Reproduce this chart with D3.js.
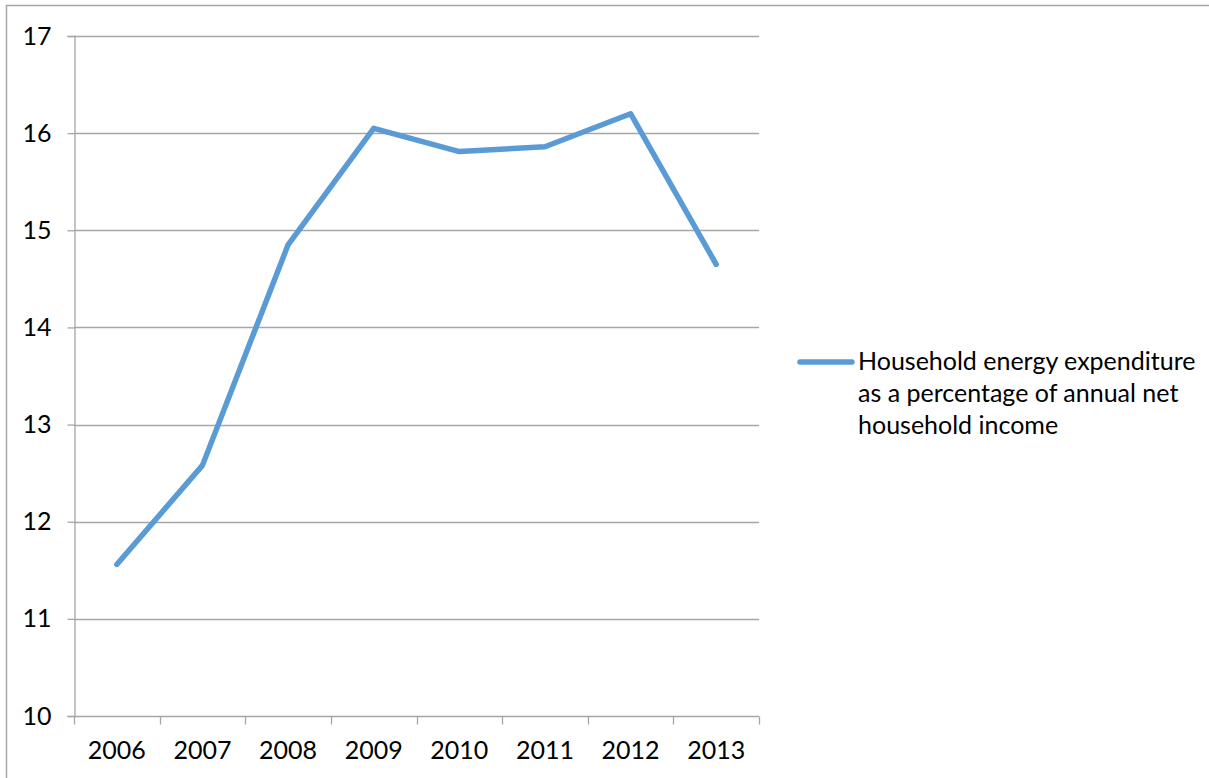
<!DOCTYPE html>
<html>
<head>
<meta charset="utf-8">
<script src="https://cdn.jsdelivr.net/npm/d3@7"></script>
<style>
  body { margin: 0; background: #fff; overflow: hidden; }
  text { font-family: Lato, "Open Sans", sans-serif; fill: #000; }
</style>
</head>
<body>
<script>
var width = 1209;
var height = 778;

var years = ["2006", "2007", "2008", "2009", "2010", "2011", "2012", "2013"];
var shares = [11.56, 12.58, 14.85, 16.05, 15.81, 15.86, 16.2, 14.65];
var yTicks = [10, 11, 12, 13, 14, 15, 16, 17];
var legendLines = ["Household energy expenditure", "as a percentage of annual net", "household income"];

var svg = d3.select("body")
    .append("svg")
    .attr("width", width)
    .attr("height", height);

// chart frame (runs past the right and bottom edges of the picture)
svg.append("rect")
    .attr("x", 6.5)
    .attr("y", 5.5)
    .attr("width", width + 20)
    .attr("height", height + 20)
    .attr("fill", "none")
    .attr("stroke", "#a6a6a6")
    .attr("stroke-width", 1.5);

var x = d3.scaleBand()
    .domain(years)
    .range([74, 759]);

var y = d3.scaleLinear()
    .domain([10, 17])
    .range([716, 36]);

// horizontal gridlines
svg.append("g")
    .selectAll("line")
    .data(yTicks.slice(1))
    .enter()
    .append("line")
    .attr("x1", 74)
    .attr("x2", 759)
    .attr("y1", function (d) { return Math.round(y(d)) + 0.5; })
    .attr("y2", function (d) { return Math.round(y(d)) + 0.5; })
    .attr("stroke", "#a6a6a6")
    .attr("stroke-width", 1.3);

// y axis
var yAxis = svg.append("g")
    .attr("transform", "translate(74.5,0)")
    .call(d3.axisLeft(y).tickValues(yTicks).tickSize(7).tickPadding(16).tickFormat(d3.format("d")));
yAxis.select(".domain").attr("stroke", "#a6a6a6").attr("stroke-width", 1.3);
yAxis.selectAll(".tick line").attr("stroke", "#a6a6a6").attr("stroke-width", 1.3);
yAxis.selectAll("text")
    .style("font-family", "Lato, 'Open Sans', sans-serif")
    .style("font-size", "25px")
    .attr("fill", "#000");

// x axis: ticks on category boundaries
var xAxis = svg.append("g")
    .attr("transform", "translate(0," + (Math.round(y(10)) + 0.5) + ")");
xAxis.append("line")
    .attr("x1", 74)
    .attr("x2", 759)
    .attr("stroke", "#a6a6a6")
    .attr("stroke-width", 1.3);
var bounds = years.map(function (d) { return x(d); }).concat([x.range()[1]]);
xAxis.selectAll(".tick")
    .data(bounds)
    .enter()
    .append("line")
    .attr("x1", function (d) { return Math.round(d) + 0.5; })
    .attr("x2", function (d) { return Math.round(d) + 0.5; })
    .attr("y1", 0)
    .attr("y2", 8)
    .attr("stroke", "#a6a6a6")
    .attr("stroke-width", 1.3);
xAxis.selectAll("text")
    .data(years)
    .enter()
    .append("text")
    .attr("x", function (d) { return x(d) + x.bandwidth() / 2; })
    .attr("y", 42)
    .attr("text-anchor", "middle")
    .style("font-size", "25px")
    .text(function (d) { return d; });

// the series
var line = d3.line()
    .x(function (d, i) { return x(years[i]) + x.bandwidth() / 2; })
    .y(function (d) { return y(d); });

svg.append("path")
    .datum(shares)
    .attr("d", line)
    .attr("fill", "none")
    .attr("stroke", "#5b9bd5")
    .attr("stroke-width", 5.5)
    .attr("stroke-linejoin", "round")
    .attr("stroke-linecap", "round");

// legend
var legend = svg.append("g");
legend.append("line")
    .attr("x1", 800)
    .attr("x2", 852)
    .attr("y1", 362)
    .attr("y2", 362)
    .attr("stroke", "#5b9bd5")
    .attr("stroke-width", 5.5)
    .attr("stroke-linecap", "round");
legend.selectAll("text")
    .data(legendLines)
    .enter()
    .append("text")
    .attr("x", 858)
    .attr("y", function (d, i) { return 370 + i * 32; })
    .style("font-size", "25px")
    .text(function (d) { return d; });
</script>
</body>
</html>
